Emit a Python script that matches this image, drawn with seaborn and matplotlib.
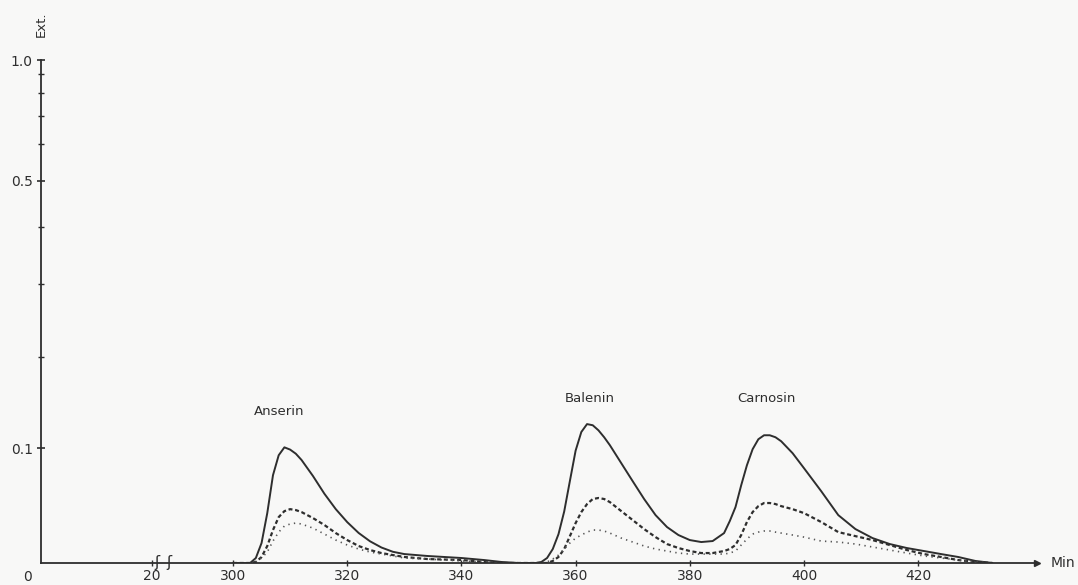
import numpy as np
import seaborn as sns
import matplotlib.pyplot as plt

# elution time (min) and extinction of the three traces
minutes = [300, 303, 304, 305, 306, 307, 308, 309, 310, 311, 312, 314, 316, 318, 320, 322,
           324, 326, 328, 330, 334, 340, 344, 347, 350, 353, 354, 355, 356, 357, 358, 359,
           360, 361, 362, 363, 364, 365, 366, 368, 370, 372, 374, 376, 378, 380, 382, 384,
           386, 387, 388, 389, 390, 391, 392, 393, 394, 395, 396, 398, 400, 403, 406, 409,
           412, 415, 418, 421, 424, 427, 430, 433]
ext_solid = [0, 0, 0.0039, 0.0158, 0.0406, 0.0742, 0.0930, 0.1007, 0.0985, 0.0945, 0.0885,
             0.0735, 0.0575, 0.0440, 0.0330, 0.0240, 0.0172, 0.0122, 0.0088, 0.0070, 0.0055,
             0.0039, 0.0023, 0.0008, 0, 0, 0.0008, 0.0039, 0.0110, 0.0230, 0.0420, 0.0690,
             0.0975, 0.1160, 0.1241, 0.1229, 0.1177, 0.1107, 0.1028, 0.0854, 0.0687, 0.0528,
             0.0389, 0.0289, 0.0223, 0.0182, 0.0166, 0.0174, 0.0239, 0.0339, 0.0458, 0.0651,
             0.0835, 0.0989, 0.1087, 0.1127, 0.1127, 0.1107, 0.1067, 0.0950, 0.0807, 0.0598,
             0.0389, 0.0272, 0.0198, 0.0150, 0.0118, 0.0094, 0.0070, 0.0047, 0.0016, 0]
ext_dashed = [0, 0, 0.0008, 0.0047, 0.0134, 0.0264, 0.0372, 0.0423, 0.0440, 0.0432, 0.0415,
              0.0364, 0.0306, 0.0239, 0.0182, 0.0134, 0.0102, 0.0078, 0.0062, 0.0047, 0.0031,
              0.0023, 0.0008, 0, 0, 0, 0, 0, 0.0016, 0.0047, 0.0110, 0.0214,
              0.0322, 0.0415, 0.0484, 0.0528, 0.0537, 0.0528, 0.0501, 0.0423, 0.0347, 0.0272,
              0.0206, 0.0150, 0.0118, 0.0094, 0.0078, 0.0078, 0.0094, 0.0110, 0.0142, 0.0223,
              0.0331, 0.0415, 0.0466, 0.0493, 0.0493, 0.0484, 0.0466, 0.0440, 0.0406, 0.0331,
              0.0247, 0.0214, 0.0182, 0.0142, 0.0102, 0.0070, 0.0047, 0.0023, 0.0008, 0]
ext_dotted = [0, 0, 0.0008, 0.0039, 0.0086, 0.0174, 0.0247, 0.0297, 0.0314, 0.0322, 0.0314,
              0.0280, 0.0231, 0.0182, 0.0142, 0.0110, 0.0086, 0.0070, 0.0055, 0.0039, 0.0031,
              0.0016, 0.0008, 0, 0, 0, 0, 0.0008, 0.0031, 0.0062, 0.0110, 0.0158,
              0.0198, 0.0223, 0.0247, 0.0264, 0.0264, 0.0256, 0.0239, 0.0198, 0.0166, 0.0134,
              0.0110, 0.0094, 0.0078, 0.0070, 0.0070, 0.0070, 0.0070, 0.0078, 0.0094, 0.0142,
              0.0190, 0.0231, 0.0247, 0.0256, 0.0256, 0.0247, 0.0239, 0.0223, 0.0206, 0.0174,
              0.0166, 0.0150, 0.0126, 0.0102, 0.0078, 0.0055, 0.0039, 0.0023, 0.0008, 0]

peak_names = ["Anserin", "Balenin", "Carnosin"]
peak_min = [308, 362.5, 393.5]
peak_ext = [0.137, 0.151, 0.151]

y_major = [0.1, 0.5, 1.0]
y_major_labels = ["0.1", "0.5", "1.0"]
y_minor = [0.2, 0.3, 0.4, 0.6, 0.7, 0.8, 0.9]
x_ticks = [20, 300, 320, 340, 360, 380, 400, 420]
x_labels = ["20", "300", "320", "340", "360", "380", "400", "420"]

# broken time axis (0..21 | 289..)
brk_t = [0, 20, 21, 288.8, 300, 460]
brk_u = [0, 111, 116, 128, 192, 1105.6]


def fwd_x(t):
    return np.interp(t, brk_t, brk_u)


def inv_x(u):
    return np.interp(u, brk_u, brk_t)


# extinction axis is linear in transmission
def fwd_y(e):
    return 1 - 10.0 ** (-np.asarray(e, dtype=float))


def inv_y(f):
    return -np.log10(np.clip(1 - np.asarray(f, dtype=float), 1e-9, None))


bg = "#f8f8f7"
ink = "#2e2e2e"

sns.set_theme(style="white")
plt.rcParams["font.family"] = ["DejaVu Sans"]

fig = plt.figure(figsize=(10.78, 5.85), dpi=100, facecolor=bg)
ax = fig.add_axes([41 / 1078, 22 / 585, 996 / 1078, 503 / 585])
ax.set_facecolor(bg)

sns.lineplot(x=minutes, y=ext_solid, ax=ax, color=ink, lw=1.4)
sns.lineplot(x=minutes, y=ext_dashed, ax=ax, color=ink, lw=1.6, linestyle=(0, (1.8, 1.2)))
sns.lineplot(x=minutes, y=ext_dotted, ax=ax, color="#555555", lw=1.2, linestyle=(0, (0.8, 2.6)))

ax.set_xscale("function", functions=(fwd_x, inv_x))
ax.set_yscale("function", functions=(fwd_y, inv_y))
ax.set_xlim(0, 440.8)
ax.set_ylim(0, 1.0)

for s in ["top", "right"]:
    ax.spines[s].set_visible(False)
for s in ["left", "bottom"]:
    ax.spines[s].set_color(ink)
    ax.spines[s].set_linewidth(1.3)

ax.set_yticks(y_major, y_major_labels)
ax.set_yticks(y_minor, minor=True)
ax.set_xticks(x_ticks, x_labels)
ax.tick_params(axis="y", which="major", direction="inout", length=6, width=1.2,
               color=ink, labelcolor=ink, labelsize=10, pad=3, left=True)
ax.tick_params(axis="y", which="minor", direction="inout", length=4, width=1.0,
               color=ink, left=True)
ax.tick_params(axis="x", which="major", direction="inout", length=4, width=1.0,
               color=ink, labelcolor=ink, labelsize=10, pad=2, bottom=True)
ax.tick_params(axis="x", which="minor", bottom=False)
ax.set_xlabel("")
ax.set_ylabel("")

for name, t, e in zip(peak_names, peak_min, peak_ext):
    ax.text(t, e, name, ha="center", va="center", fontsize=9.5, color=ink)

# axis break marks
for t in [21, 288.8]:
    ax.text(t, 0, "ʃ", ha="center", va="center", fontsize=11, color=ink)

# arrow head and labels on the axes
ax.plot([1.0], [0.0], marker=">", ms=5, color=ink, transform=ax.transAxes, clip_on=False)
ax.annotate("Min", xy=(1, 0), xycoords="axes fraction", xytext=(14, 0),
            textcoords="offset pixels", ha="left", va="center", fontsize=10, color=ink)
ax.annotate("Ext.", xy=(0, 1), xycoords="axes fraction", xytext=(0, 36),
            textcoords="offset pixels", ha="center", va="center", rotation=90,
            fontsize=9.5, color=ink)
ax.annotate("0", xy=(0, 0), xycoords="axes fraction", xytext=(-14, -14),
            textcoords="offset pixels", ha="center", va="center", fontsize=10, color=ink)

fig.savefig("out.png", dpi=100, facecolor=bg)
